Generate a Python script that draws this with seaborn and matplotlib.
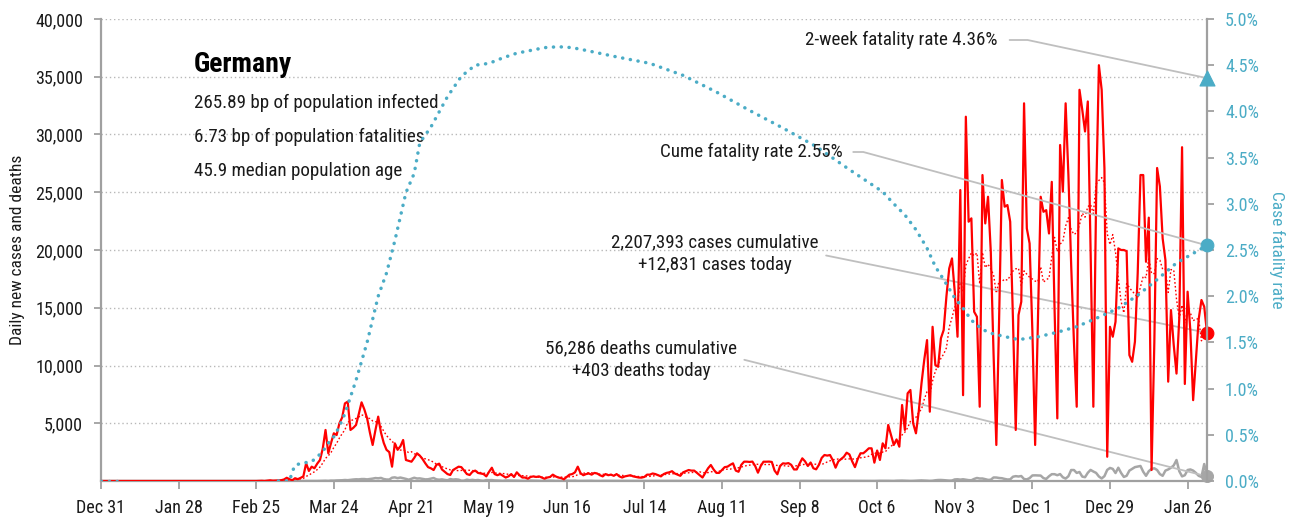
import numpy as np
import pandas as pd
import matplotlib
matplotlib.use("Agg")
import matplotlib.pyplot as plt
import seaborn as sns
from matplotlib import font_manager as fm

# ---------------- data ----------------
cases_dec19 = [0]
cases_jan20 = [0, 0, 0, 0, 0, 0, 0, 0, 0, 0, 0, 0, 0, 0, 0, 0, 0, 0, 0, 0, 0, 0, 0, 0, 0, 0, 1, 3, 0, 0, 1]
cases_feb20 = [2, 0, 2, 0, 0, 0, 1, 0, 0, 0, 0, 2, 0, 0, 0, 0, 0, 0, 0, 0, 0, 0, 0, 0, 0, 10, 19, 2, 31]
cases_mar20 = [60, 30, 40, 50, 70, 130, 280, 160, 60, 240, 160, 270, 400, 1530, 870, 1240, 1100, 1500, 1820,
               2800, 4420, 2400, 3300, 4130, 3980, 4990, 5500, 6720, 6870, 4420, 4600]
cases_apr20 = [4850, 5800, 6810, 6200, 5430, 4200, 3120, 4400, 5570, 4200, 3300, 2700, 2500, 1240, 3260, 2700,
               3000, 3550, 1820, 1750, 1670, 2000, 2400, 2200, 1900, 1530, 1200, 1100, 950, 1400]
cases_may20 = [1500, 1000, 800, 600, 520, 950, 1100, 1240, 1200, 900, 600, 520, 800, 900, 700, 650, 600, 400,
               800, 1150, 600, 500, 600, 450, 300, 400, 600, 350, 750, 500, 300]
cases_jun20 = [300, 200, 350, 400, 350, 400, 300, 200, 300, 350, 550, 400, 300, 250, 150, 350, 550, 600, 750,
               1240, 680, 500, 600, 650, 550, 700, 650, 500, 400, 600]
cases_jul20 = [500, 550, 450, 600, 400, 300, 400, 450, 500, 400, 350, 300, 290, 350, 550, 550, 650, 600, 500,
               400, 600, 700, 750, 850, 650, 550, 450, 750, 850, 950, 900]
cases_aug20 = [900, 700, 500, 300, 700, 1100, 1385, 1000, 700, 700, 950, 1200, 1240, 1400, 1530, 900, 800, 1400,
               1674, 1674, 1650, 1680, 1300, 720, 1300, 1670, 1670, 1680, 1650, 900, 580]
cases_sep20 = [1300, 1530, 1500, 1550, 1400, 1000, 1000, 1500, 1962, 1700, 1300, 1600, 1100, 1010, 1400, 2000,
               2250, 2200, 2250, 1800, 1154, 1700, 1900, 2100, 2450, 2300, 1700, 1200, 1900, 2400]
cases_oct20 = [2400, 2600, 2830, 2830, 1590, 2640, 1820, 3260, 2830, 4850, 4000, 3120, 3600, 2970, 6580, 4420,
               7590, 7880, 4990, 4130, 6000, 8450, 10500, 12200, 6000, 13350, 10040, 9890, 12350, 13070, 16000]
cases_nov20 = [18400, 19270, 16380, 12490, 25190, 7430, 31540, 22450, 22740, 14650, 14220, 6430, 26490, 22300,
               24610, 19850, 11000, 3120, 14000, 26060, 23750, 23890, 22450, 14000, 4420, 14370, 15520, 32700,
               21870, 20570]
cases_dec20 = [13000, 3120, 14000, 24610, 23310, 23450, 21430, 25900, 14940, 5420, 29090, 25050, 32700, 26490,
               18690, 12000, 6430, 33870, 32140, 30260, 32860, 20000, 6430, 24470, 36000, 33870, 27070, 2100,
               13350, 12490, 13790]
cases_jan21 = [20140, 20000, 20000, 19900, 10900, 10320, 12060, 18000, 26490, 26490, 18980, 22800, 950, 12000,
               27100, 25500, 21000, 19130, 8600, 14800, 11770, 9300, 14100, 28900, 8400, 16390, 13000, 7000,
               10500, 14000, 15670]
cases_feb21 = [15090, 12831]

deaths_dec19 = [0]
deaths_jan20 = [0, 0, 0, 0, 0, 0, 0, 0, 0, 0, 0, 0, 0, 0, 0, 0, 0, 0, 0, 0, 0, 0, 0, 0, 0, 0, 0, 0, 0, 0, 0]
deaths_feb20 = [0, 0, 0, 0, 0, 0, 0, 0, 0, 0, 0, 0, 0, 0, 0, 0, 0, 0, 0, 0, 0, 0, 0, 0, 0, 0, 0, 0, 0]
deaths_mar20 = [0, 0, 0, 0, 0, 0, 0, 0, 2, 0, 1, 3, 1, 2, 4, 4, 8, 4, 11, 20, 25, 11, 37, 33, 49, 55, 65, 86,
                71, 104, 128]
deaths_apr20 = [149, 140, 168, 169, 140, 173, 206, 254, 233, 266, 171, 129, 126, 286, 315, 248, 299, 242, 184,
                110, 194, 281, 215, 227, 179, 140, 150, 202, 260, 142]
deaths_may20 = [113, 142, 94, 64, 165, 123, 147, 118, 26, 33, 116, 72, 101, 62, 89, 41, 20, 79, 72, 83, 50, 42,
                31, 10, 47, 45, 39, 47, 30, 19, 11]
deaths_jun20 = [14, 18, 40, 31, 27, 16, 9, 16, 29, 32, 26, 6, 14, 3, 8, 24, 17, 19, 31, 4, 7, 8, 15, 10, 22, 6,
                2, 2, 13, 12]
deaths_jul20 = [12, 6, 6, 7, 2, 3, 12, 7, 10, 9, 2, 1, 4, 4, 5, 6, 9, 5, 1, 3, 9, 5, 8, 8, 5, 2, 5, 7, 6, 7, 6]
deaths_aug20 = [7, 3, 1, 5, 10, 8, 7, 5, 1, 3, 5, 6, 12, 8, 6, 1, 2, 12, 9, 7, 5, 4, 3, 2, 6, 8, 7, 10, 3, 1, 4]
deaths_sep20 = [8, 7, 6, 7, 4, 1, 3, 8, 11, 9, 10, 3, 1, 2, 11, 14, 11, 9, 4, 1, 8, 13, 12, 14, 13, 6, 2, 5, 12,
                15]
deaths_oct20 = [11, 14, 9, 2, 3, 13, 16, 18, 13, 14, 7, 5, 22, 27, 33, 24, 20, 6, 12, 30, 39, 49, 42, 27, 11, 23,
                63, 85, 89, 74, 49]
deaths_nov20 = [33, 42, 135, 150, 120, 150, 110, 75, 65, 180, 260, 215, 215, 160, 95, 110, 305, 300, 260, 240,
                180, 130, 140, 370, 420, 390, 430, 170, 140, 250]
deaths_dec20 = [480, 490, 480, 470, 250, 180, 410, 590, 590, 500, 600, 320, 210, 410, 950, 950, 700, 780, 380,
                330, 710, 960, 820, 700, 390, 220, 420, 960, 1130, 1050, 690]
deaths_jan21 = [1150, 700, 350, 450, 900, 1050, 1200, 1250, 1300, 800, 450, 850, 1050, 1100, 950, 600, 450, 900,
                1000, 1150, 1350, 1818, 850, 400, 500, 950, 1000, 900, 700, 450, 350]
deaths_feb21 = [1470, 403]

# cumulative case fatality rate (%), read at these day numbers (day 0 = Dec 31, 2019)
cfr_early_days = [0, 6]
cfr_early = [0.0, 0.0]
cfr_days = [64, 66, 68, 69, 70, 72, 74, 76, 78, 80, 82, 84, 86, 88, 90, 92, 96, 100, 103, 106, 110, 113, 115,
            119, 125, 130, 135, 140, 145, 150, 155, 160, 165, 170, 175, 186, 198, 210, 222, 234, 246, 258, 270,
            282, 286, 290, 294, 298, 301, 304, 308, 311, 314, 318, 321, 325, 331, 338, 345, 352, 359, 367, 374,
            381, 388, 395, 399]
cfr_pct = [0.0, 0.0, 0.0, 0.10, 0.17, 0.19, 0.20, 0.21, 0.26, 0.32, 0.41, 0.48, 0.59, 0.73, 0.91, 1.09, 1.50,
           2.00, 2.25, 2.60, 3.12, 3.33, 3.66, 3.83, 4.16, 4.38, 4.50, 4.52, 4.58, 4.63, 4.66, 4.69, 4.70, 4.69,
           4.66, 4.59, 4.52, 4.39, 4.21, 4.01, 3.82, 3.62, 3.37, 3.13, 3.00, 2.88, 2.72, 2.52, 2.32, 2.18, 1.98,
           1.87, 1.74, 1.64, 1.60, 1.57, 1.53, 1.56, 1.61, 1.67, 1.76, 1.87, 2.01, 2.18, 2.36, 2.48, 2.55]

two_week_cfr = 4.36
total_cases = 2207393
total_deaths = 56286
country = "Germany"
stats_lines = ["265.89 bp of population infected",
               "6.73 bp of population fatalities",
               "45.9 median population age"]
x_tick_labels = ["Dec 31", "Jan 28", "Feb 25", "Mar 24", "Apr 21", "May 19", "Jun 16", "Jul 14",
                 "Aug 11", "Sep 8", "Oct 6", "Nov 3", "Dec 1", "Dec 29", "Jan 26"]
left_ticks = [5000, 10000, 15000, 20000, 25000, 30000, 35000, 40000]
right_ticks = [0.0, 0.5, 1.0, 1.5, 2.0, 2.5, 3.0, 3.5, 4.0, 4.5, 5.0]

cases = (cases_dec19 + cases_jan20 + cases_feb20 + cases_mar20 + cases_apr20 + cases_may20 + cases_jun20 +
         cases_jul20 + cases_aug20 + cases_sep20 + cases_oct20 + cases_nov20 + cases_dec20 + cases_jan21 +
         cases_feb21)
deaths = (deaths_dec19 + deaths_jan20 + deaths_feb20 + deaths_mar20 + deaths_apr20 + deaths_may20 +
          deaths_jun20 + deaths_jul20 + deaths_aug20 + deaths_sep20 + deaths_oct20 + deaths_nov20 +
          deaths_dec20 + deaths_jan21 + deaths_feb21)

df = pd.DataFrame({"day": np.arange(len(cases)), "cases": cases, "deaths": deaths})
df["avg7"] = df["cases"].rolling(7, min_periods=1).mean()
cfr_df = pd.DataFrame({"day": cfr_days, "cfr": cfr_pct})
cfr_early_df = pd.DataFrame({"day": cfr_early_days, "cfr": cfr_early})
last = df.iloc[-1]

# ---------------- style ----------------
sns.set_theme(style="white")
avail = {f.name for f in fm.fontManager.ttflist}
family = next((f for f in ["Roboto Condensed", "Roboto", "Liberation Sans Narrow", "DejaVu Sans"] if f in avail),
              "DejaVu Sans")
plt.rcParams["font.family"] = [family, "DejaVu Sans"]

RED = "#ff0000"
BLUE = "#4bacc6"
GRAY = "#a6a6a6"
SPINE = "#a0a0a0"
LINE = "#bfbfbf"
TXT = "#1a1a1a"

W, H = 1297, 518
L, R, T, B = 101, 1207, 19, 481
fig = plt.figure(figsize=(W / 100, H / 100), dpi=100)
ax = fig.add_axes([L / W, 1 - B / H, (R - L) / W, (B - T) / H])
ax2 = ax.twinx()


def axfrac(px, py):
    return ((px - L) / (R - L), (B - py) / (B - T))


# ---------------- marks ----------------
sns.lineplot(data=df, x="day", y="deaths", ax=ax, color=GRAY, lw=1.8, zorder=2)
sns.lineplot(data=df, x="day", y="avg7", ax=ax, color=RED, lw=1.0, linestyle=(0, (1.2, 1.6)), zorder=3)
sns.lineplot(data=df, x="day", y="cases", ax=ax, color=RED, lw=1.6, zorder=4)

sns.lineplot(data=cfr_early_df, x="day", y="cfr", ax=ax2, color=BLUE, lw=2.5,
             linestyle=(0, (0.05, 2.2)), dash_capstyle="round", zorder=3)
sns.lineplot(data=cfr_df, x="day", y="cfr", ax=ax2, color=BLUE, lw=2.5,
             linestyle=(0, (0.05, 2.2)), dash_capstyle="round", zorder=3)

sns.scatterplot(x=[last["day"]], y=[last["cases"]], ax=ax, color=RED, s=85, marker="o",
                edgecolor=RED, clip_on=False, zorder=6)
sns.scatterplot(x=[last["day"]], y=[last["deaths"]], ax=ax, color=GRAY, s=75, marker="o",
                edgecolor=GRAY, clip_on=False, zorder=6)
sns.scatterplot(x=[cfr_days[-1]], y=[cfr_pct[-1]], ax=ax2, color=BLUE, s=85, marker="o",
                edgecolor=BLUE, clip_on=False, zorder=6)
sns.scatterplot(x=[cfr_days[-1]], y=[two_week_cfr], ax=ax2, color=BLUE, s=115, marker="^",
                edgecolor=BLUE, clip_on=False, zorder=6)

# ---------------- axes ----------------
ax.set_xlim(0, len(cases) - 1)
ax.set_ylim(0, 40000)
ax2.set_ylim(0, 5.0)
ax.set_xticks(range(0, 28 * len(x_tick_labels), 28))
ax.set_xticklabels(x_tick_labels)
ax.set_yticks(left_ticks)
ax.set_yticklabels([f"{v:,}" for v in left_ticks])
ax2.set_yticks(right_ticks)
ax2.set_yticklabels([f"{v:.1f}%" for v in right_ticks])

ax.set_xlabel("")
ax.set_ylabel("Daily new cases and deaths", fontsize=12.5, color=TXT, labelpad=7)
ax2.set_ylabel("Case fatality rate", fontsize=12.5, color=BLUE, rotation=270, labelpad=19)

ax.yaxis.grid(True, linestyle=(0, (1, 2)), color="#b8b8b8", lw=1.0)
ax.xaxis.grid(False)
ax2.grid(False)
ax.set_axisbelow(True)

for a in (ax, ax2):
    a.spines["top"].set_visible(False)
    for s in ("left", "right", "bottom"):
        a.spines[s].set_color(SPINE)
        a.spines[s].set_linewidth(1.6)
ax.spines["right"].set_visible(False)
ax2.spines["left"].set_visible(False)
ax2.spines["bottom"].set_visible(False)

ax.tick_params(axis="y", direction="out", length=5, width=1.3, color=SPINE, labelsize=13,
               labelcolor=TXT, pad=8, left=True)
ax.tick_params(axis="x", direction="out", length=6, width=1.3, color=SPINE, labelsize=13,
               labelcolor=TXT, pad=7, bottom=True)
ax2.tick_params(axis="y", direction="out", length=5, width=1.3, color=SPINE, labelsize=13,
                labelcolor=BLUE, pad=8, right=True)

# ---------------- texts ----------------
ax.text(*axfrac(194, 72), country, transform=ax.transAxes, fontsize=20, fontweight="bold",
        color="black", ha="left", va="baseline")
for line_txt, yc in zip(stats_lines, [103, 137, 171]):
    ax.text(*axfrac(194, yc), line_txt, transform=ax.transAxes, fontsize=13.7, color=TXT,
            ha="left", va="center")

arrow_common = dict(arrowstyle="-", color=LINE, lw=1.3, shrinkB=0)
ax2.annotate(f"2-week fatality rate {two_week_cfr:.2f}%", xy=(cfr_days[-1], two_week_cfr), xycoords="data",
             xytext=axfrac(998, 40), textcoords="axes fraction", ha="right", va="center", fontsize=13.7,
             color=TXT, annotation_clip=False,
             arrowprops=dict(**arrow_common, shrinkA=6, relpos=(1, 0.5),
                             connectionstyle="angle,angleA=0,angleB=-12,rad=0"))
ax2.annotate(f"Cume fatality rate {cfr_pct[-1]:.2f}%", xy=(cfr_days[-1], cfr_pct[-1]), xycoords="data",
             xytext=axfrac(843, 152), textcoords="axes fraction", ha="right", va="center", fontsize=13.7,
             color=TXT, annotation_clip=False,
             arrowprops=dict(**arrow_common, shrinkA=5, relpos=(1, 0.5),
                             connectionstyle="angle,angleA=0,angleB=-15.2,rad=0"))
ax.annotate(f"{total_cases:,} cases cumulative\n+{int(last['cases']):,} cases today",
            xy=(last["day"], last["cases"]), xycoords="data",
            xytext=axfrac(715, 254), textcoords="axes fraction", ha="center", va="center",
            multialignment="center", linespacing=1.35, fontsize=13.7, color=TXT, annotation_clip=False,
            arrowprops=dict(**arrow_common, shrinkA=3, relpos=(1, 0.5), connectionstyle="arc3,rad=0"))
ax.annotate(f"{total_deaths:,} deaths cumulative\n+{int(last['deaths']):,} deaths today",
            xy=(last["day"], last["deaths"]), xycoords="data",
            xytext=axfrac(641, 360), textcoords="axes fraction", ha="center", va="center",
            multialignment="center", linespacing=1.35, fontsize=13.7, color=TXT, annotation_clip=False,
            arrowprops=dict(**arrow_common, shrinkA=3, relpos=(1, 0.55), connectionstyle="arc3,rad=0"))

fig.savefig("out.png", dpi=100)
